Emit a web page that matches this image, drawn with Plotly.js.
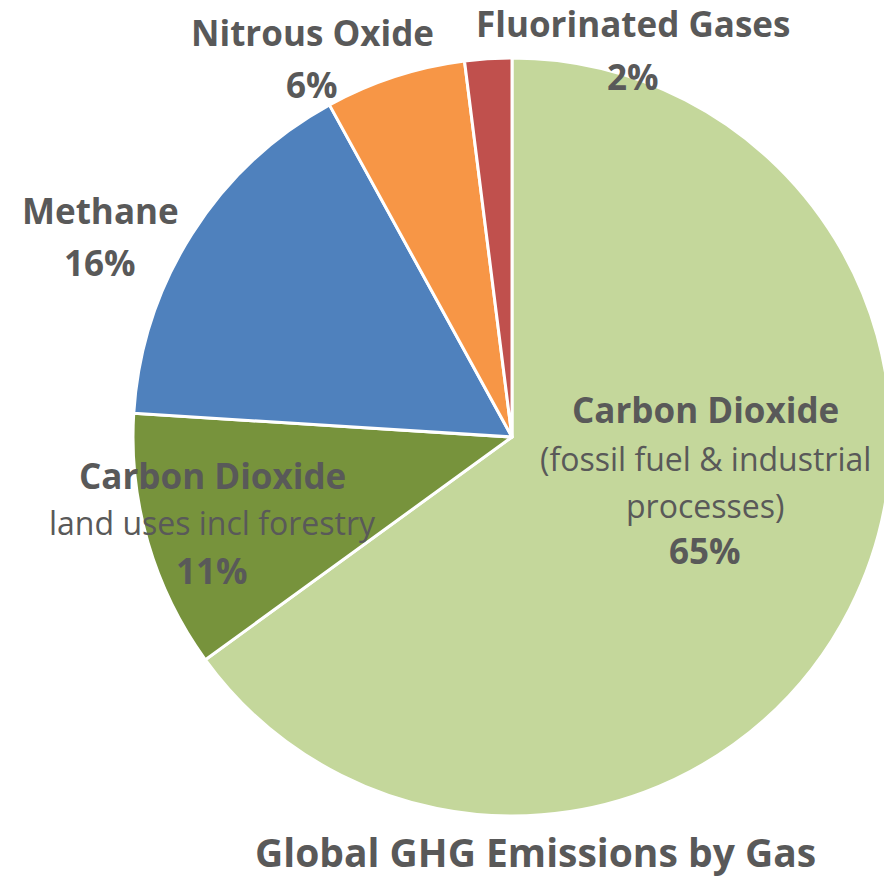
<!DOCTYPE html>
<html>
<head>
<meta charset="utf-8">
<script src="https://cdn.plot.ly/plotly-3.0.1.min.js"></script>
<style>
html,body{margin:0;padding:0;overflow:hidden;background:#fff;}
#chart{width:1000px;height:880px;}
</style>
</head>
<body>
<div id="chart"></div>
<script>
// Data
const gases = ["Carbon Dioxide (fossil fuel & industrial processes)", "Carbon Dioxide land uses incl forestry", "Methane", "Nitrous Oxide", "Fluorinated Gases"];
const shares = [65, 11, 16, 6, 2];
const colors = ["#c4d79b", "#77933c", "#4f81bd", "#f79646", "#c0504d"];
const chartTitle = "Global GHG Emissions by Gas";

const W = 1000, H = 880;
const FONT = "Open Sans, Lato, sans-serif";
const GREY = "#595959";
const px = x => x / W;
const py = y => 1 - y / H;

function ann(text, x, y, size, bold) {
  return {
    text: bold ? "<b>" + text + "</b>" : text,
    x: px(x), y: py(y), xref: "paper", yref: "paper",
    xanchor: "center", yanchor: "middle", showarrow: false,
    font: {family: FONT, size: size, color: GREY}
  };
}
const B = 35, R = 32;
const annotations = [
  ann("Fluorinated Gases", 633, 24, B, true),
  ann(shares[4] + "%", 633, 76, B, true),
  ann("Nitrous Oxide", 312, 33, B, true),
  ann(shares[3] + "%", 312, 84, B, true),
  ann("Methane", 100, 210, B, true),
  ann(shares[2] + "%", 100, 262, B, true),
  ann("Carbon Dioxide", 212, 475, B, true),
  ann("land uses incl forestry", 212, 522, R, false),
  ann(shares[1] + "%", 212, 570, B, true),
  ann("Carbon Dioxide", 705, 410, B, true),
  ann("(fossil fuel &amp; industrial", 705, 458, R, false),
  ann("processes)", 705, 505, R, false),
  ann(shares[0] + "%", 705, 550, B, true),
  ann(chartTitle, 535, 851, 39, true)
];

Plotly.newPlot("chart", [{
  type: "pie",
  labels: gases,
  values: shares,
  sort: false,
  direction: "clockwise",
  rotation: 0,
  textinfo: "none",
  hoverinfo: "label+percent",
  marker: {colors: colors, line: {color: "#ffffff", width: 3}},
  domain: {x: [132 / W, 892 / W], y: [(H - 816) / H, (H - 58) / H]},
  showlegend: false
}], {
  width: W, height: H,
  margin: {l: 0, r: 0, t: 0, b: 0},
  paper_bgcolor: "#ffffff",
  showlegend: false,
  annotations: annotations
}, {displayModeBar: false, staticPlot: true});
</script>
</body>
</html>
